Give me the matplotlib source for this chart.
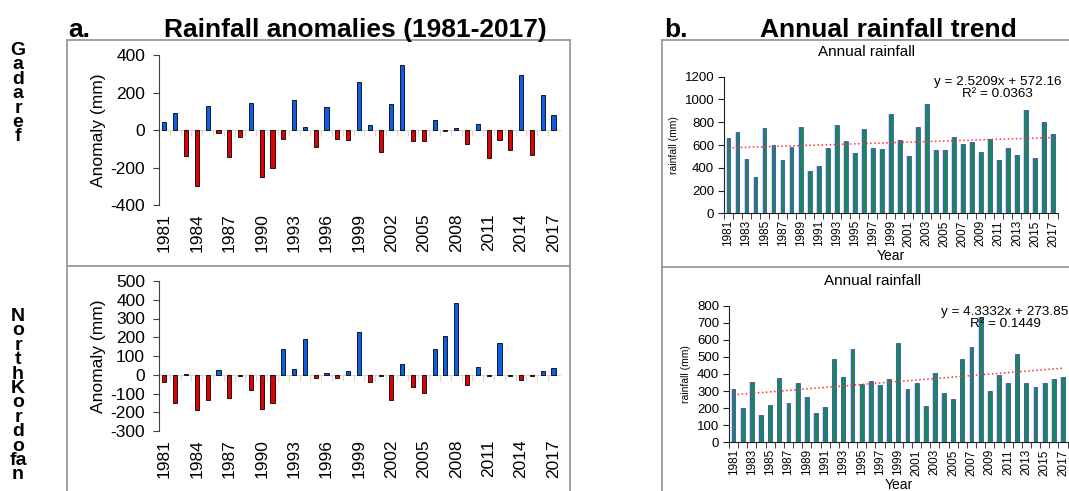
import matplotlib
matplotlib.use("Agg")
import matplotlib.pyplot as plt
from matplotlib.lines import Line2D
from matplotlib.ticker import FixedLocator
import numpy as np

plt.rcParams['font.family'] = ['Liberation Sans', 'DejaVu Sans']
plt.rcParams['axes.unicode_minus'] = False

years = list(range(1981, 2018))

# anomalies (mm)
gadaref_anom = [41, 92, -139, -299, 128, -16, -146, -37, 144, -249,
                -203, -48, 160, 18, -91, 123, -48, -55, 256, 27,
                -116, 139, 345, -60, -60, 52, -5, 12, -76, 32,
                -151, -52, -107, 295, -132, 187, 80]
kordofan_anom = [-40, -150, 5, -190, -134, 26, -125, -7, -83, -181,
                 -148, 135, 30, 193, -16, 10, -19, 21, 230, -39,
                 -5, -135, 58, -67, -98, 140, 207, 383, -53, 44,
                 -7, 172, -7, -26, -9, 21, 37]

# annual rainfall (mm)
gadaref_rain = [660, 710, 480, 320, 745, 600, 470, 585, 760, 370,
                415, 575, 775, 635, 530, 740, 575, 565, 870, 645,
                505, 755, 960, 560, 560, 670, 610, 630, 540, 650,
                470, 570, 510, 910, 490, 800, 695]
kordofan_rain = [310, 200, 355, 160, 218, 375, 228, 345, 268, 170,
                 205, 487, 380, 545, 340, 360, 335, 370, 580, 315,
                 350, 215, 405, 287, 255, 490, 558, 735, 300, 397,
                 348, 520, 348, 325, 345, 370, 385]

# linear trend (slope, intercept, r2) as printed on the charts
gadaref_trend = (2.5209, 572.16, 0.0363)
kordofan_trend = (4.3332, 273.85, 0.1449)

anom_ticks = {'gadaref': [-400, -200, 0, 200, 400],
              'kordofan': [-300, -200, -100, 0, 100, 200, 300, 400, 500]}
rain_ticks = {'gadaref': [0, 200, 400, 600, 800, 1000, 1200],
              'kordofan': [0, 100, 200, 300, 400, 500, 600, 700, 800]}

W, H = 1069, 491


def fx(px):
    return px / W


def fy(py):
    return 1 - py / H


def anomaly_panel(fig, rect, values, yticks):
    ax = fig.add_axes(rect)
    cols = ['#0a5fe8' if v >= 0 else '#e00000' for v in values]
    ax.bar(years, values, width=0.38, color=cols, edgecolor='black', linewidth=0.6, zorder=3)
    ax.set_xlim(1980.5, 2017.6)
    ax.set_ylim(yticks[0], yticks[-1])
    ax.set_yticks(yticks)
    for s in ['top', 'right']:
        ax.spines[s].set_visible(False)
    ax.spines['left'].set_color('#404040')
    ax.spines['bottom'].set_position(('data', 0))
    ax.spines['bottom'].set_color('#d8d8d8')
    ax.spines['bottom'].set_zorder(2)
    ax.set_xticks([y - 0.5 for y in years])
    ax.tick_params(axis='x', length=4, color='#d8d8d8', labelbottom=False)
    ax.tick_params(axis='y', length=4, color='#404040', labelsize=12.5, pad=6)
    sec = ax.secondary_xaxis('bottom')
    sec.set_xticks(years[::3])
    sec.set_xticklabels([str(y) for y in years[::3]], rotation=90, fontsize=12.5)
    sec.tick_params(length=0, pad=6)
    sec.spines['bottom'].set_visible(False)
    ax.set_ylabel('Anomaly (mm)', fontsize=12.5, labelpad=3)
    return ax


def rain_panel(fig, rect, values, yticks, trend, eqpos):
    ax = fig.add_axes(rect)
    ax.bar(years, values, width=0.58, color='#d4d4f6', linewidth=0, zorder=2)
    ax.bar(years, values, width=0.42, color='#178a52', edgecolor='#2b32c8', linewidth=0.45, zorder=3)
    idx = np.arange(1, len(years) + 1)
    ax.plot(years, trend[0] * idx + trend[1], ls=':', color='#ff3030', lw=1.1, zorder=4)
    ax.set_xlim(1980.5, 2017.5)
    ax.set_ylim(yticks[0], yticks[-1])
    ax.set_yticks(yticks)
    for s in ['top', 'right']:
        ax.spines[s].set_visible(False)
    ax.spines['left'].set_color('#202020')
    ax.spines['bottom'].set_color('#202020')
    ax.set_xticks(years[::2])
    ax.set_xticklabels([str(y) for y in years[::2]], rotation=90, fontsize=8.5)
    ax.xaxis.set_minor_locator(FixedLocator([y - 0.5 for y in years] + [years[-1] + 0.5]))
    ax.tick_params(axis='x', which='major', length=0, pad=5)
    ax.tick_params(axis='x', which='minor', length=4, color='#202020')
    ax.tick_params(axis='y', length=4, color='#202020', labelsize=9.5, pad=3)
    ax.set_xlabel('Year', fontsize=10, labelpad=2)
    ax.set_ylabel('rainfall (mm)', fontsize=7.5, labelpad=4)
    ax.text(eqpos[0], eqpos[1], 'y = %.4fx + %.2f\nR² = %.4f' % trend,
            transform=ax.transAxes, ha='center', va='center', multialignment='center',
            fontsize=9.7, linespacing=1.0, clip_on=False)
    return ax


def main():
    fig = plt.figure(figsize=(W / 100, H / 100), dpi=100)

    anomaly_panel(fig, [fx(159), fy(205), fx(560 - 159), 150 / H],
                  gadaref_anom, anom_ticks['gadaref'])
    anomaly_panel(fig, [fx(159), fy(431), fx(560 - 159), 150 / H],
                  kordofan_anom, anom_ticks['kordofan'])

    rain_panel(fig, [fx(724), fy(213.3), fx(1057.5 - 724), 136.6 / H],
               gadaref_rain, rain_ticks['gadaref'], gadaref_trend, (0.82, 0.92))
    rain_panel(fig, [fx(729), fy(442.3), fx(1067.6 - 729), 136.6 / H],
               kordofan_rain, rain_ticks['kordofan'], kordofan_trend, (0.815, 0.91))

    # panel frames
    grey = '#9a9a9a'
    frames = [((67, 67), (40, 491)), ((570, 570), (40, 491)), ((67, 570), (40, 40)),
              ((67, 570), (266, 266)), ((662, 662), (40, 491)), ((662, 1069), (40, 40)),
              ((662, 1069), (267, 267))]
    for xs, ys in frames:
        fig.add_artist(Line2D([fx(x) for x in xs], [fy(y) for y in ys], color=grey, lw=1.3))

    # subtitles of panel b
    fig.text(fx(867), fy(52), 'Annual rainfall', ha='center', va='center', fontsize=11)
    fig.text(fx(872), fy(281), 'Annual rainfall', ha='center', va='center', fontsize=11)

    # headings
    narrow = ['Liberation Sans Narrow', 'Liberation Sans', 'DejaVu Sans']
    for x, s in [(68, 'a.'), (164, 'Rainfall anomalies (1981-2017)'),
                 (664, 'b.'), (760, 'Annual rainfall trend')]:
        fig.text(fx(x), fy(37), s, ha='left', va='baseline', fontsize=19,
                 fontweight='bold', family=narrow)

    # station names, one letter under the other
    fig.text(fx(18), fy(42), '\n'.join('Gadaref'), ha='center', va='top', fontsize=14,
             fontweight='bold', family=narrow, linespacing=0.8)
    fig.text(fx(18), fy(308), '\n'.join(['N', 'o', 'r', 't', 'h', 'K', 'o', 'r', 'd', 'o', 'fa', 'n']),
             ha='center', va='top', fontsize=14, fontweight='bold', family=narrow,
             linespacing=0.8)

    fig.savefig('out.png', dpi=100)


if __name__ == '__main__':
    main()
